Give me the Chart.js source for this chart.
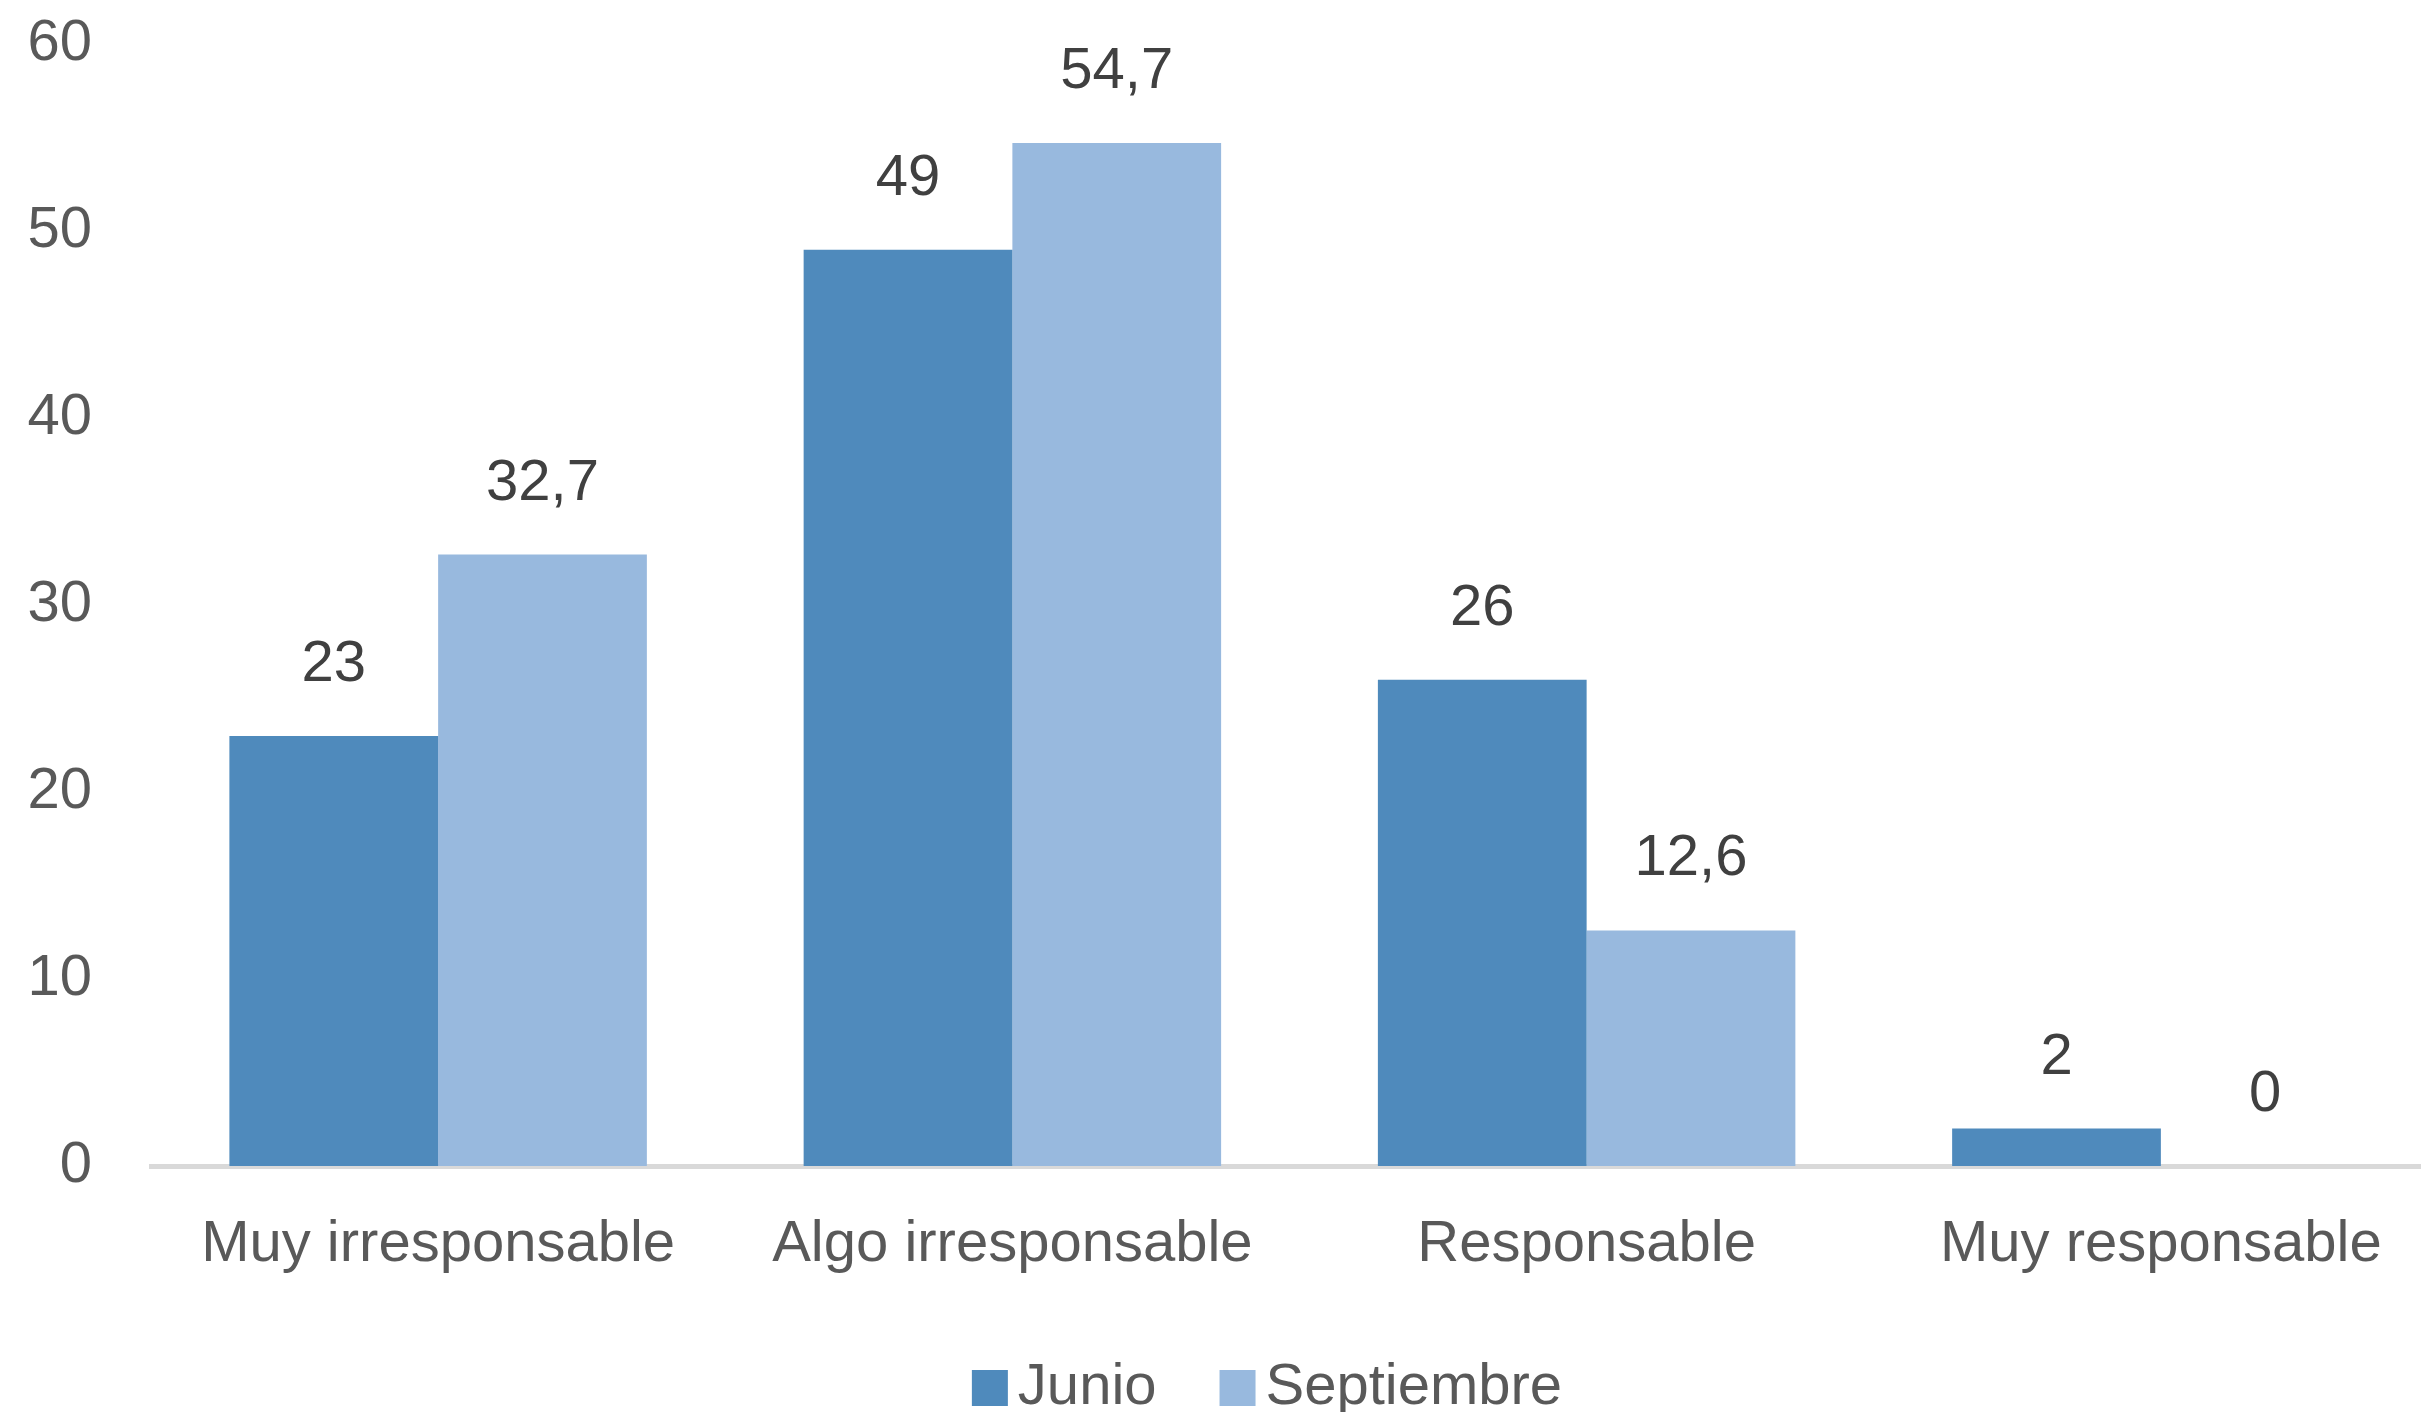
<!DOCTYPE html>
<html>
<head>
<meta charset="utf-8">
<title>Junio / Septiembre</title>
<script src="https://cdn.jsdelivr.net/npm/chart.js@4/dist/chart.umd.min.js"></script>
<style>
  html, body { margin: 0; padding: 0; background: #fff; overflow: hidden; }
  #chart { display: block; }
</style>
</head>
<body>
<canvas id="chart" width="2448" height="1412"></canvas>
<script>
// data
const categories = ['Muy irresponsable', 'Algo irresponsable', 'Responsable', 'Muy responsable'];
const junio = [23, 49, 26, 2];
const septiembre = [32.7, 54.7, 12.6, 0];
const yTicks = [0, 10, 20, 30, 40, 50, 60];

const FONT = 'Liberation Sans, Arial, sans-serif';

// value labels above the bars, decimal comma like the original
const barLabels = {
    id: 'barLabels',
    afterDatasetsDraw(chart) {
        const ctx = chart.ctx;
        ctx.save();
        ctx.font = '58px ' + FONT;
        ctx.fillStyle = '#404040';
        ctx.textAlign = 'center';
        ctx.textBaseline = 'middle';
        chart.data.datasets.forEach((ds, i) => {
            chart.getDatasetMeta(i).data.forEach((bar, j) => {
                const txt = String(ds.data[j]).replace('.', ',');
                ctx.fillText(txt, bar.x, bar.y - 71);
            });
        });
        ctx.restore();
    }
};

// legend at the bottom, a bit right of the canvas centre like the original
const bottomLegend = {
    id: 'bottomLegend',
    afterDraw(chart) {
        const ctx = chart.ctx;
        const box = 36, gapText = 10, gapItem = 63, cy = 1388, cx = 1267;
        ctx.save();
        ctx.font = '58px ' + FONT;
        ctx.textBaseline = 'middle';
        ctx.textAlign = 'left';
        const items = chart.data.datasets.map(ds => ({
            text: ds.label, color: ds.backgroundColor, w: ctx.measureText(ds.label).width
        }));
        let total = 0;
        items.forEach((it, i) => { total += box + gapText + it.w + (i ? gapItem : 0); });
        let x = cx - total / 2;
        items.forEach(it => {
            ctx.fillStyle = it.color;
            ctx.fillRect(x, cy - box / 2, box, box);
            ctx.fillStyle = '#595959';
            ctx.fillText(it.text, x + box + gapText, cy);
            x += box + gapText + it.w + gapItem;
        });
        ctx.restore();
    }
};

const ctx = document.getElementById('chart').getContext('2d');
new Chart(ctx, {
    type: 'bar',
    data: {
        labels: categories,
        datasets: [
            { label: 'Junio', data: junio, backgroundColor: 'rgb(79,138,188)' },
            { label: 'Septiembre', data: septiembre, backgroundColor: 'rgb(152,185,222)' }
        ]
    },
    options: {
        responsive: false,
        animation: false,
        devicePixelRatio: 1,
        layout: { padding: { left: 0, top: 44, right: 0, bottom: 0 } },
        datasets: {
            bar: { categoryPercentage: 0.727, barPercentage: 1.0 }
        },
        plugins: {
            legend: { display: false },
            tooltip: { enabled: false }
        },
        scales: {
            x: {
                grid: { display: false, drawTicks: false },
                border: { display: true, color: '#d9d9d9', width: 5 },
                ticks: {
                    color: '#595959',
                    padding: 44,
                    maxRotation: 0,
                    font: { family: FONT, size: 58 }
                },
                afterFit(scale) {
                    scale.height = 246;
                    scale.paddingLeft = 0;
                    scale.paddingRight = 0;
                }
            },
            y: {
                min: 0,
                max: 60,
                grid: { display: false, drawTicks: false },
                border: { display: false },
                afterBuildTicks(scale) { scale.ticks = yTicks.map(v => ({ value: v })); },
                ticks: {
                    color: '#595959',
                    padding: 59,
                    font: { family: FONT, size: 58 }
                },
                afterFit(scale) {
                    scale.width = 151;
                    scale.paddingTop = 0;
                    scale.paddingBottom = 0;
                }
            }
        }
    },
    plugins: [barLabels, bottomLegend]
});
</script>
</body>
</html>
